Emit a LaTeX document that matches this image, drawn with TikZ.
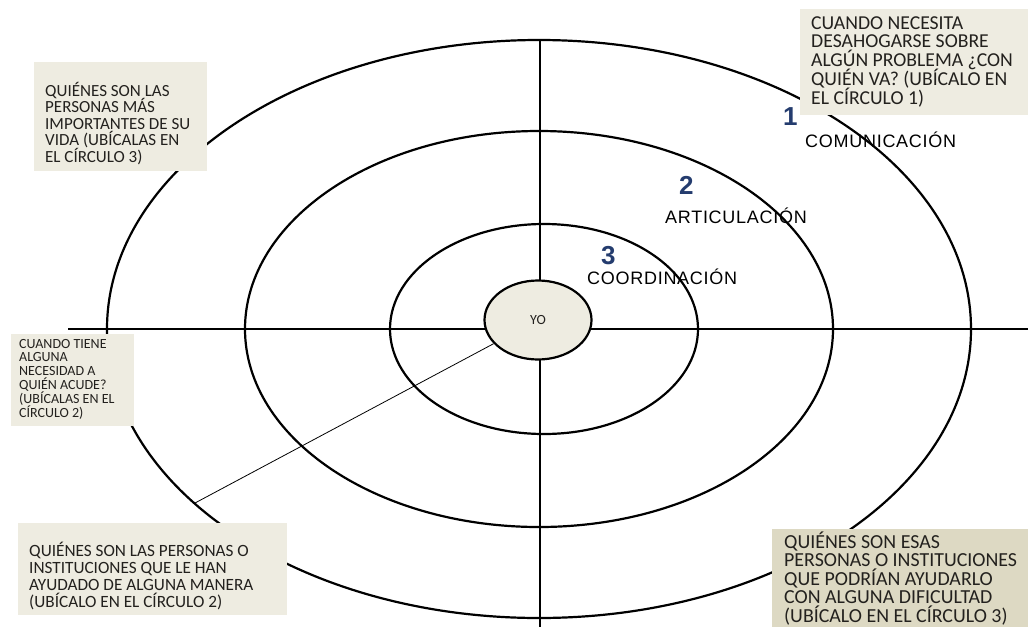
\documentclass[tikz,border=0pt]{standalone}
\usepackage{fontspec}
\setmainfont{Carlito}
\newfontfamily\labfont[LetterSpace=4]{Liberation Sans}
\newfontfamily\numfont{Liberation Sans}
\usetikzlibrary{shapes.geometric}
\definecolor{boxfill}{RGB}{238,236,225}
\definecolor{boxfilldark}{RGB}{221,217,195}
\definecolor{txt}{RGB}{35,33,30}
\definecolor{numblue}{RGB}{36,60,110}
\tikzset{
  ring/.style={draw=black, line width=2.2pt},
  axisline/.style={draw=black, line width=2.2pt},
  notebox/.style={fill=boxfill, draw=none, anchor=north west, inner sep=0pt},
  notetext/.style={anchor=base west, align=left, inner sep=0pt, text=txt},
  ringlabel/.style={font=\labfont\fontsize{18}{20}\selectfont, anchor=base west, inner sep=0pt, text=black},
  ringnum/.style={font=\numfont\bfseries\fontsize{26}{30}\selectfont, anchor=base west, inner sep=0pt, text=numblue},
}
\begin{document}
\begin{tikzpicture}[x=1pt,y=-1pt]
\useasboundingbox (0,0) rectangle (1028,627);
% rings
\draw[ring] (539,329) ellipse [x radius=432pt, y radius=289pt];
\draw[ring] (539,329) ellipse [x radius=294pt, y radius=198pt];
\draw[ring] (544,329) ellipse [x radius=154pt, y radius=105pt];
% axes
\coordinate (vtop) at (540,40);
\coordinate (vbot) at (540,627);
\coordinate (hleft) at (68,329);
\coordinate (hright) at (1028,329);
\draw[axisline] (vtop) -- (vbot);
\draw[axisline] (hleft) -- (hright);
% centre
\node[ellipse, draw=black, line width=2.2pt, fill=boxfill, minimum width=107pt, minimum height=79pt, inner sep=0pt, font=\fontsize{14}{16}\selectfont, text=txt] (yo) at (538,320) {YO};
\coordinate (p) at (195,503);
\draw[line width=0.8pt] (yo) -- (p);
% ring labels
\node[ringnum] (n1) at (783,125) {1};
\node[ringlabel] (l1) at (805,147) {COMUNICACIÓN};
\node[ringnum] (n2) at (679,194) {2};
\node[ringlabel] (l2) at (665,223) {ARTICULACIÓN};
\node[ringnum] (n3) at (601,264) {3};
\node[ringlabel] (l3) at (587,284) {COORDINACIÓN};
% note boxes (text anchored at the baseline of its last line)
\node[notebox, minimum width=228pt, minimum height=106pt] (b1) at (800,9) {};
\node[notetext, font={\fontsize{19.7}{18.7}\selectfont\lineskiplimit=-20pt}] (t1) at (811,104)
  {CUANDO NECESITA\\DESAHOGARSE SOBRE\\ALGÚN PROBLEMA ¿CON\\QUIÉN VA? (UBÍCALO EN\\EL CÍRCULO 1)};
\node[notebox, minimum width=173pt, minimum height=109pt] (b2) at (34,62) {};
\node[notetext, font={\fontsize{17}{16.5}\selectfont\lineskiplimit=-20pt}] (t2) at (45,162)
  {QUIÉNES SON LAS\\PERSONAS MÁS\\IMPORTANTES DE SU\\VIDA (UBÍCALAS EN\\EL CÍRCULO 3)};
\node[notebox, minimum width=123pt, minimum height=92pt] (b3) at (11,334) {};
\node[notetext, font={\fontsize{14}{13.9}\selectfont\lineskiplimit=-20pt}] (t3) at (19,417.5)
  {CUANDO TIENE\\ALGUNA\\NECESIDAD A\\QUIÉN ACUDE?\\(UBÍCALAS EN EL\\CÍRCULO 2)};
\node[notebox, minimum width=269pt, minimum height=92pt] (b4) at (18,523) {};
\node[notetext, font={\fontsize{17.2}{16.7}\selectfont\lineskiplimit=-20pt}] (t4) at (29,607)
  {QUIÉNES SON LAS PERSONAS O\\INSTITUCIONES QUE LE HAN\\AYUDADO DE ALGUNA MANERA\\(UBÍCALO EN EL CÍRCULO 2)};
\node[notebox, fill=boxfilldark, minimum width=256pt, minimum height=98pt] (b5) at (772,529) {};
\node[notetext, font={\fontsize{19.9}{18.5}\selectfont\lineskiplimit=-20pt}] (t5) at (784,622)
  {QUIÉNES SON ESAS\\PERSONAS O INSTITUCIONES\\QUE PODRÍAN AYUDARLO\\CON ALGUNA DIFICULTAD\\(UBÍCALO EN EL CÍRCULO 3)};
\end{tikzpicture}
\end{document}
